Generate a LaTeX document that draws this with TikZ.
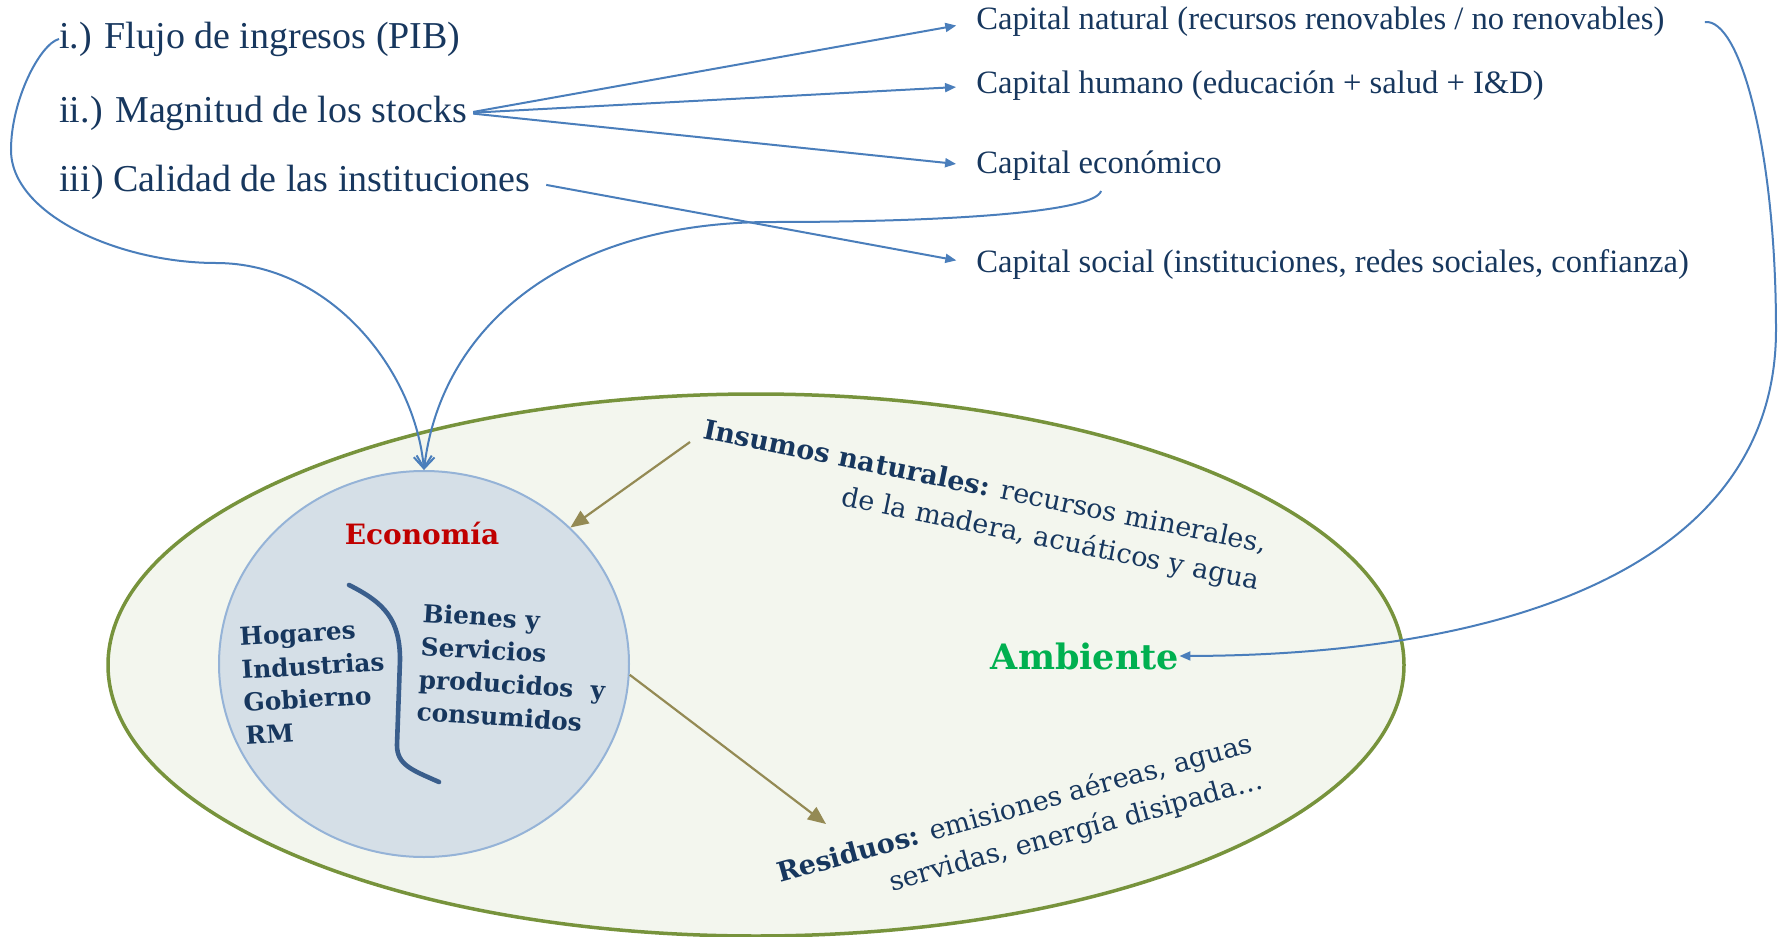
\documentclass[tikz,border=0pt]{standalone}
\usepackage{fontspec}
\usepackage{tikz}
\usepackage{xcolor}
\setmainfont{Liberation Serif}
\newfontfamily\slabfont{DejaVu Serif}
\usetikzlibrary{arrows.meta,positioning,shapes.geometric}

\definecolor{textnavy}{HTML}{17375E}
\definecolor{linkblue}{HTML}{4A7EBB}
\definecolor{flowtan}{HTML}{948A54}
\definecolor{envline}{HTML}{77933C}
\definecolor{envfill}{HTML}{F3F6EE}
\definecolor{ecoline}{HTML}{95B3D7}
\definecolor{ecofill}{HTML}{D5DFE7}
\definecolor{ecored}{HTML}{C00000}
\definecolor{envgreen}{HTML}{00B050}
\definecolor{divider}{HTML}{3A5E8C}

\begin{document}
\begin{tikzpicture}[x = 0.5pt, y = -0.5pt,
        stock/.style = {inner sep = 0pt, anchor = west, text = textnavy,
                        font = \fontsize{19}{23}\selectfont},
        capital/.style = {inner sep = 0pt, anchor = west, text = textnavy,
                          font = \fontsize{16.3}{20}\selectfont},
        sector/.style = {inner sep = 0pt, align = left, text = textnavy,
                         font = \slabfont\bfseries\fontsize{12.4}{16.5}\selectfont},
        flowtext/.style = {inner sep = 0pt, align = right, text = textnavy,
                           font = \slabfont\fontsize{13.5}{19}\selectfont},
        link/.style = {color = linkblue, line width = 1pt},
        flow/.style = {color = flowtan, line width = 1.1pt, -{Triangle[length = 9pt, width = 7.5pt]}}]
    \useasboundingbox (0, 0) rectangle (1779, 937);

    % ambiente y economia
    \node [ellipse, draw = envline, fill = envfill, line width = 1.75pt,
           minimum width = 648pt, minimum height = 271pt] (Env) at (756, 665) {};
    \node [ellipse, draw = ecoline, fill = ecofill, line width = 1pt,
           minimum width = 205pt, minimum height = 193pt] (Eco) at (424, 664) {};
    \node [inner sep = 0pt, text = ecored, font = \slabfont\bfseries\fontsize{14}{17}\selectfont] (EcoT) at (422, 533) {Economía};
    \node [sector, rotate = 3.5] (Hog) at (314, 682) {Hogares\\Industrias\\Gobierno\\RM};
    \node [sector, rotate = -3.5] (Bys) at (513, 668) {Bienes y\\Servicios\\producidos~~y\\consumidos};
    \draw [draw = divider, line width = 2.3pt, line cap = round]
        (349, 585) .. controls (385, 603) and (400, 620) .. (400, 660)
        -- (397, 745) .. controls (397, 765) and (412, 770) .. (439, 782);
    \node [inner sep = 0pt, text = envgreen, font = \slabfont\bfseries\fontsize{17.5}{21}\selectfont] (Amb) at (1085, 656) {Ambiente};
    \node [flowtext, rotate = -11.5] (Ins) at (981, 507)
        {{\bfseries Insumos naturales:} recursos minerales,\\de la madera, acuáticos y agua};
    \node [flowtext, rotate = 15.5] (Res) at (1020, 828)
        {{\bfseries Residuos:} emisiones aéreas, aguas\\servidas, energía disipada…};

    % indicadores y capitales
    \node [stock] (Pib) at (59, 39) {i.) Flujo de ingresos (PIB)};
    \node [stock] (Stk) [below = 37pt of Pib.west, anchor = west] {ii.) Magnitud de los stocks};
    \node [stock] (Inst) [below = 34.5pt of Stk.west, anchor = west] {iii) Calidad de las instituciones};

    \node [capital] (Nat) at (976, 22) {Capital natural (recursos renovables / no renovables)};
    \node [capital] (Hum) [below = 32pt of Nat.west, anchor = west] {Capital humano (educación + salud + I\&D)};
    \node [capital] (Ecn) [below = 40pt of Hum.west, anchor = west] {Capital económico};
    \node [capital] (Soc) [below = 49pt of Ecn.west, anchor = west] {Capital social (instituciones, redes sociales, confianza)};

    \coordinate [right = 20pt of Nat.east] (NatO);
    \coordinate (EcnO) at (1101, 191);
    \coordinate (InsO) at (690, 442);
    \coordinate (ResO) at (826, 824);

    \path [link, -{Triangle[length = 5.5pt, width = 4.5pt]}, shorten > = 10pt, shorten < = 3pt]
        (Stk.east) edge (Nat.west)
                   edge (Hum.west)
                   edge (Ecn.west)
        (Inst.east) edge [shorten < = 8pt] (Soc.west);

    \draw [link, -{Straight Barb[length = 6pt, width = 9pt]}]
        (Pib.west) .. controls (40, 44) and (11, 100) .. (11, 150)
                   .. controls (11, 215) and (120, 263) .. (216, 263)
                   .. controls (330, 263) and (415, 370) .. (Eco.north);
    \draw [link, -{Straight Barb[length = 6pt, width = 9pt]}]
        (EcnO) .. controls (1095, 212) and (950, 222) .. (772, 222)
               .. controls (560, 222) and (440, 330) .. (Eco.north);
    \draw [link, -{Triangle[length = 5.5pt, width = 4.5pt]}]
        (NatO) .. controls (1740, 18) and (1776, 150) .. (1776, 330)
               .. controls (1776, 560) and (1520, 655) .. (Amb.east);

    \path [flow] (InsO) edge (Eco.43)
                 (Eco.-3) edge (ResO);
\end{tikzpicture}
\end{document}
